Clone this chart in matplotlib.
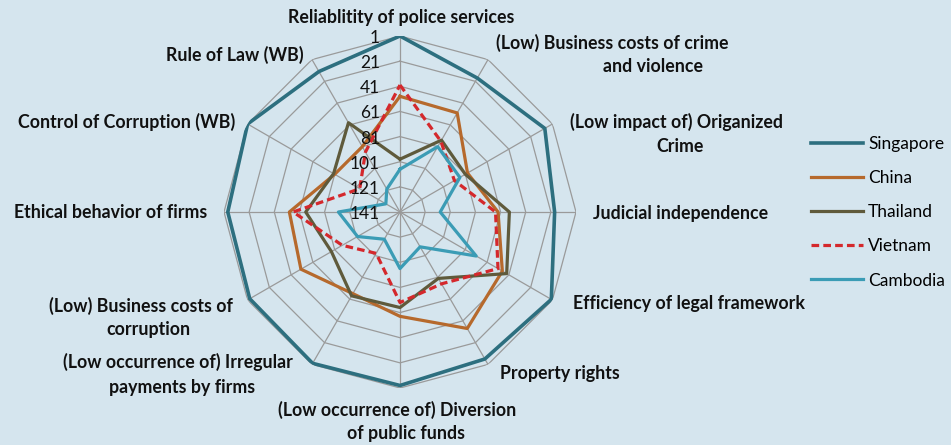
import matplotlib
matplotlib.use("Agg")
import matplotlib.pyplot as plt
import numpy as np
from matplotlib.transforms import offset_copy

# rank on each indicator (1 = best), clockwise from the top
categories = [
    "Reliablitity of police services",
    "(Low) Business costs of crime\nand violence",
    "(Low impact of) Origanized\nCrime",
    "Judicial independence",
    "Efficiency of legal framework",
    "Property rights",
    "(Low occurrence of) Diversion\nof public funds",
    "(Low occurrence of) Irregular\npayments by firms",
    "(Low) Business costs of\ncorruption",
    "Ethical behavior of firms",
    "Control of Corruption (WB)",
    "Rule of Law (WB)",
]
singapore = [1, 18, 8, 18, 2, 6, 3, 2, 3, 4, 1, 12]
china = [49, 50, 79, 63, 47, 34, 58, 66, 50, 53, 81, 81]
thailand = [99, 75, 81, 54, 43, 80, 65, 64, 78, 66, 80, 59]
vietnam = [40, 76, 91, 65, 51, 75, 69, 103, 88, 56, 104, 86]
cambodia = [107, 81, 86, 109, 71, 109, 96, 116, 102, 92, 128, 120]
rank_ticks = [1, 21, 41, 61, 81, 101, 121, 141]

BG = "#d5e5ee"
GRID = "#9a9a9a"
W, H = 951, 445
CX, CY, R = 400, 212, 176  # chart centre and radius in pixels

plt.rcParams["font.family"] = ["Lato", "DejaVu Sans"]

fig = plt.figure(figsize=(W / 100, H / 100), dpi=100)
fig.patch.set_facecolor(BG)
ax = fig.add_axes([(CX - R) / W, (H - CY - R) / H, 2 * R / W, 2 * R / H],
                  projection="polar")
ax.set_theta_zero_location("N")
ax.set_theta_direction(-1)
rmax = rank_ticks[-1] - rank_ticks[0]
ax.set_ylim(0, rmax)
ax.axis("off")

n = len(categories)
theta = np.linspace(0, 2 * np.pi, n, endpoint=False)
theta_c = np.append(theta, theta[0])


def to_r(vals):
    v = np.array(vals + vals[:1], dtype=float)
    return rank_ticks[-1] - v


# polygon grid
for t in rank_ticks[:-1]:
    ax.plot(theta_c, [rank_ticks[-1] - t] * (n + 1), color=GRID, lw=0.9, zorder=1)
for a in theta:
    ax.plot([a, a], [0, rmax], color=GRID, lw=0.9, zorder=1)

series = [
    ("Singapore", singapore, "#2d6f7f", "-", 2.6),
    ("China", china, "#b6692c", "-", 2.3),
    ("Thailand", thailand, "#5f5a3b", "-", 2.3),
    ("Vietnam", vietnam, "#d4282c", (0, (2.4, 1.3)), 2.3),
    ("Cambodia", cambodia, "#3b9cb5", "-", 2.3),
]
for name, vals, col, ls, lw in series:
    ax.plot(theta_c, to_r(vals), color=col, ls=ls, lw=lw, label=name, zorder=3)

# rank tick labels along the top spoke
tick_tr = offset_copy(ax.transData, fig=fig, x=-20, y=-2, units="dots")
for t in rank_ticks:
    ax.text(0, rank_ticks[-1] - t, str(t), transform=tick_tr, ha="right",
            va="center", fontsize=12.5, color="#111111", zorder=5)

# category labels, one line at a time (centre x, centre y in pixels)
label_pos = [
    [(401, 18)],
    [(612, 43), (653, 67)],
    [(677, 122), (680, 147)],
    [(681, 213)],
    [(689, 303)],
    [(560, 373)],
    [(397, 410), (406, 433)],
    [(178, 362), (182, 387)],
    [(141, 306), (148, 330)],
    [(111, 213)],
    [(127, 122)],
    [(235, 55)],
]
for text, pos in zip(categories, label_pos):
    for line, (x, y) in zip(text.split("\n"), pos):
        fig.text(x / W, 1 - y / H, line, ha="center", va="center",
                 fontsize=12.8, fontweight="bold", color="#111111")

fig.legend(loc="upper left", bbox_to_anchor=(795 / W, 1 - 120 / H),
           frameon=False, fontsize=12.5, handlelength=3.0, handletextpad=0.3,
           labelspacing=1.05)

fig.savefig("out.png", dpi=100, facecolor=BG)
